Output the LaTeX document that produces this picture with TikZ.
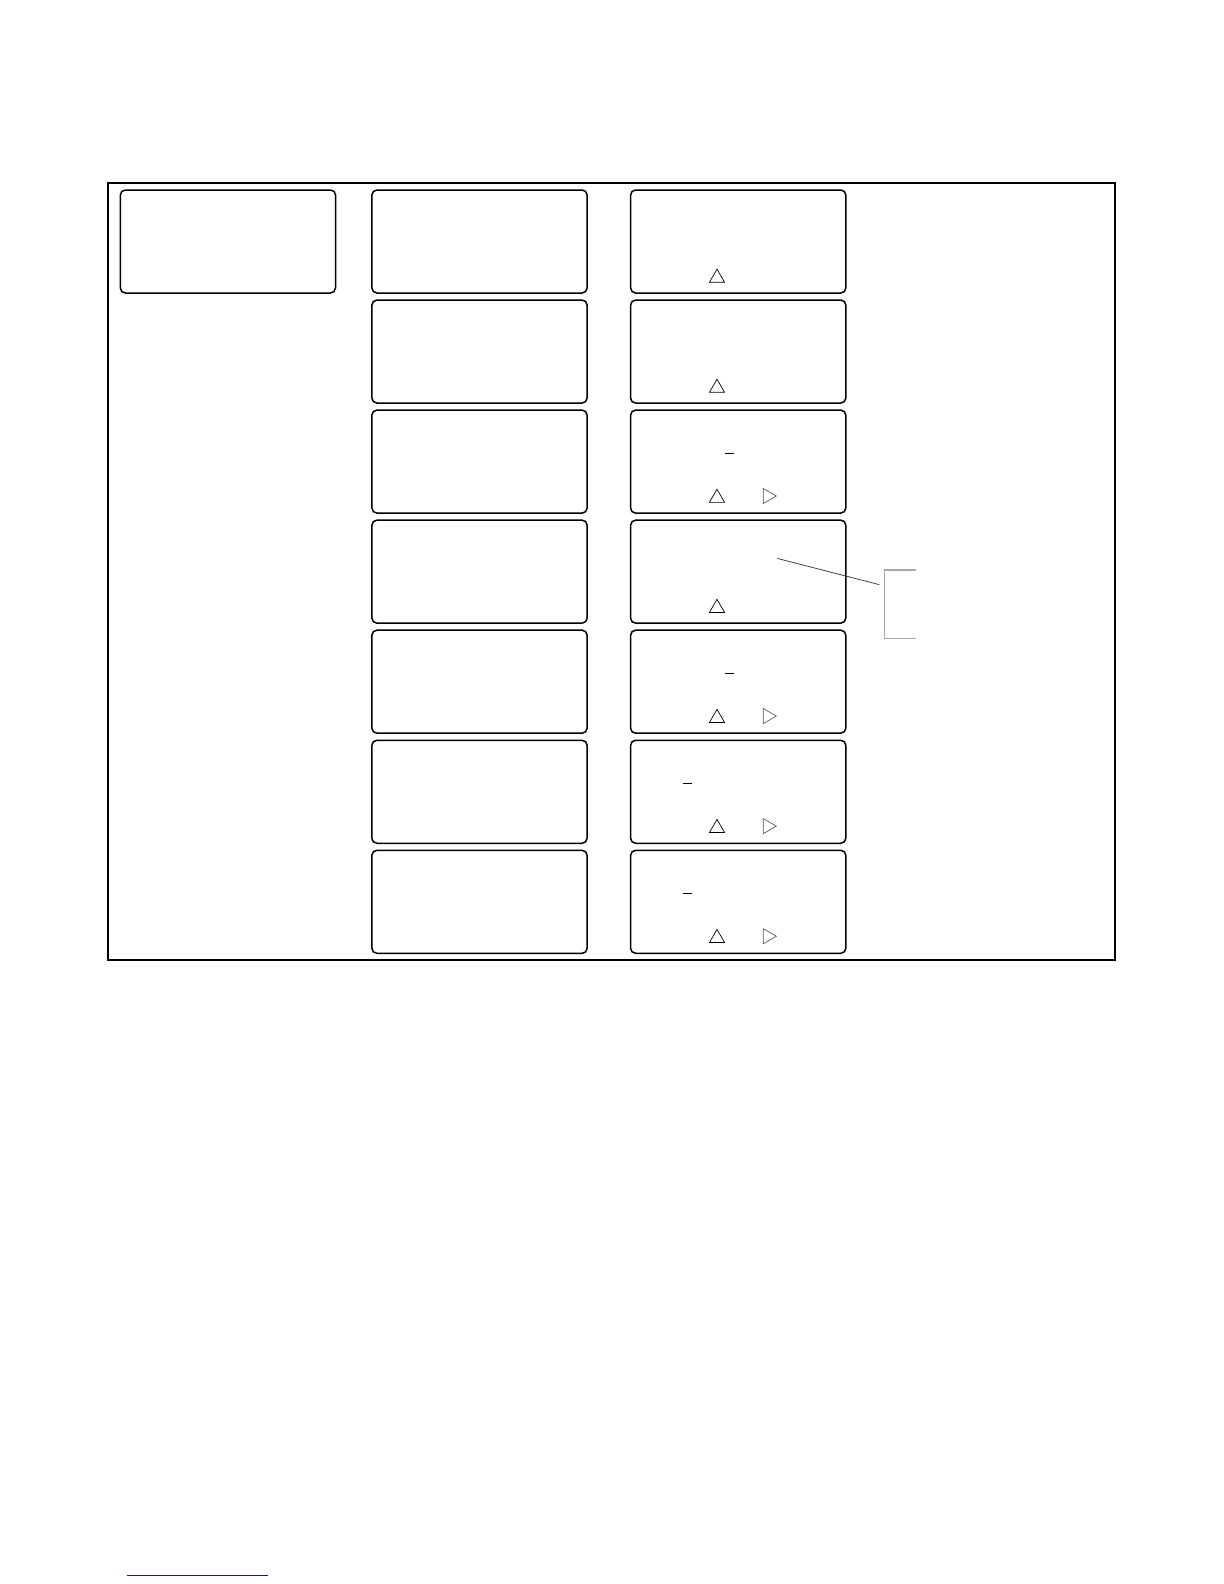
\documentclass[tikz,border=0pt]{standalone}
\usetikzlibrary{shapes.geometric}
\definecolor{linkblue}{RGB}{20,20,150}
\tikzset{
  frame/.style = {draw, line width=1pt, inner sep=0pt},
  lcdbox/.style = {draw, rounded corners=2.5pt, line width=0.75pt,
    minimum width=107.6pt, minimum height=51.5pt, inner sep=0pt},
  lcd_up/.style = {draw, regular polygon, regular polygon sides=3,
    minimum size=8.75pt, inner sep=0pt, line width=0.35pt},% up key
  lcd_rt/.style = {lcd_up, shape border rotate=-90, draw=black!65},% right key
  cursor/.style = {fill=black, minimum width=4.55pt, minimum height=0.6pt, inner sep=0pt},
  callout/.style = {draw=black!75, line width=0.4pt},
  bracket/.style = {draw=black!35, line width=0.6pt}
}

\begin{document}
\begin{tikzpicture}[x=0.5pt, y=-0.5pt]
  \useasboundingbox (0,0) rectangle (1224,1584);
  \node[frame, minimum width=503.3pt, minimum height=388.6pt] (frame) at (611.4,571.5) {};
  \node[lcdbox] (box-l1) at (227.9,241.5) {};
  % two columns of displays
  \foreach \i in {1,...,7} {
    \pgfmathsetmacro\ty{190+110.05*(\i-1)}
    \node[lcdbox] (box-m\i) at (479.5,\ty+51.5) {};
    \node[lcdbox] (box-r\i) at (738.2,\ty+51.5) {};
    \node[lcd_up] (up-\i) at (717,\ty+87.9) {};
  }
  \foreach \i in {3,5,6,7} {
    \pgfmathsetmacro\ty{190+110.05*(\i-1)}
    \node[lcd_rt] (rt-\i) at (767.6,\ty+85.9) {};
  }
  \foreach \i/\cx in {3/729.2,5/729.2,6/687.7,7/687.7} {
    \pgfmathsetmacro\ty{190+110.05*(\i-1)}
    \node[cursor] (cur-\i) at (\cx,\ty+43.5) {};
  }
  % callout
  \coordinate (callout-a) at (777.2,558.4);
  \coordinate (callout-b) at (879.2,584.6);
  \draw[callout] (callout-a) -- (callout-b);
  \coordinate (brk-top) at (915.6,570);
  \coordinate (brk-bot) at (915.6,638.7);
  \draw[bracket] (brk-top) -| (884.3,604.3) |- (brk-bot);
  % footnote rule
  \coordinate (fn-a) at (127,1575);
  \coordinate (fn-b) at (268,1575);
  \draw[linkblue, line width=0.5pt] (fn-a) -- (fn-b);
\end{tikzpicture}
\end{document}
